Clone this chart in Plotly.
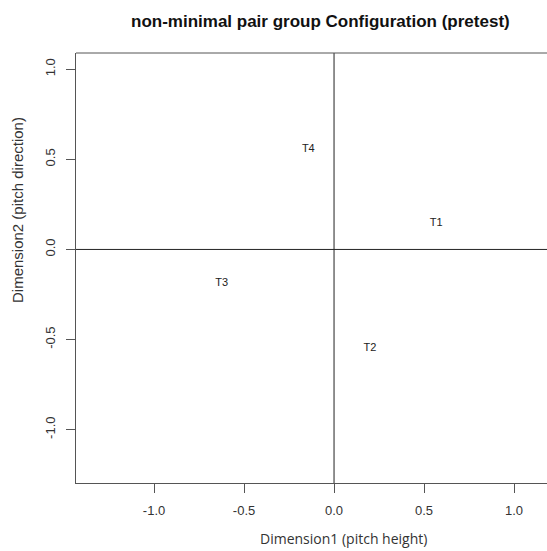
import plotly.graph_objects as go

labels = ["T1", "T2", "T3", "T4"]
dim1 = [0.567, 0.200, -0.624, -0.143]
dim2 = [0.146, -0.549, -0.188, 0.558]
tick_vals = [-1.0, -0.5, 0.0, 0.5, 1.0]
tick_text = ["-1.0", "-0.5", "0.0", "0.5", "1.0"]

title = "non-minimal pair group Configuration (pretest)"
xlab = "Dimension1 (pitch height)"
ylab = "Dimension2 (pitch direction)"

W, H = 547, 551
L, R, T, B = 76, 0, 53, 68

fig = go.Figure()
fig.add_trace(go.Scatter(
    x=dim1, y=dim2, mode="text", text=labels,
    textfont=dict(family="Liberation Sans, Arial", size=11, color="#222"),
    textposition="middle center", hoverinfo="skip", showlegend=False,
))

axis_common = dict(
    showgrid=False, zeroline=False, showline=True, linecolor="#555", linewidth=1,
    ticks="outside", ticklen=9, tickcolor="#555", tickwidth=1,
    tickvals=tick_vals, ticktext=tick_text, ticklabelstandoff=6,
    tickfont=dict(family="Liberation Sans, Arial", size=13, color="#333"),
)
fig.update_xaxes(range=[-1.439 + 1 / 180, 1.183], **axis_common)
fig.update_yaxes(range=[-1.296, 1.09], tickangle=-90, **axis_common)

# quadrant lines and top border
fig.add_shape(type="line", xref="x", yref="paper", x0=0, x1=0, y0=0, y1=1,
              line=dict(color="#222", width=1))
fig.add_shape(type="line", xref="paper", yref="y", x0=0, x1=1, y0=0, y1=0,
              line=dict(color="#222", width=1))
fig.add_shape(type="line", xref="paper", yref="paper", x0=0, x1=1, y0=1, y1=1,
              line=dict(color="#555", width=1))

pw = W - L - R
ph = H - T - B
fig.add_annotation(text="<b>" + title + "</b>", xref="paper", yref="paper",
                   x=(320 - L) / pw, y=(H - B - 21) / ph, showarrow=False,
                   font=dict(family="Liberation Sans, Arial", size=17, color="#111"),
                   xanchor="center", yanchor="middle")
fig.add_annotation(text=xlab, xref="paper", yref="paper",
                   x=(343 - L) / pw, y=(H - B - 538) / ph, showarrow=False,
                   font=dict(family="Open Sans, Liberation Sans", size=14, color="#333"),
                   xanchor="center", yanchor="middle")
fig.add_annotation(text=ylab, xref="paper", yref="paper",
                   x=(18 - L) / pw, y=(H - B - 210) / ph, showarrow=False, textangle=-90,
                   font=dict(family="Liberation Sans, Arial", size=15, color="#333"),
                   xanchor="center", yanchor="middle")

fig.update_layout(
    width=W, height=H, margin=dict(l=L, r=R, t=T, b=B),
    paper_bgcolor="white", plot_bgcolor="white",
)
fig.write_html("out.html")
